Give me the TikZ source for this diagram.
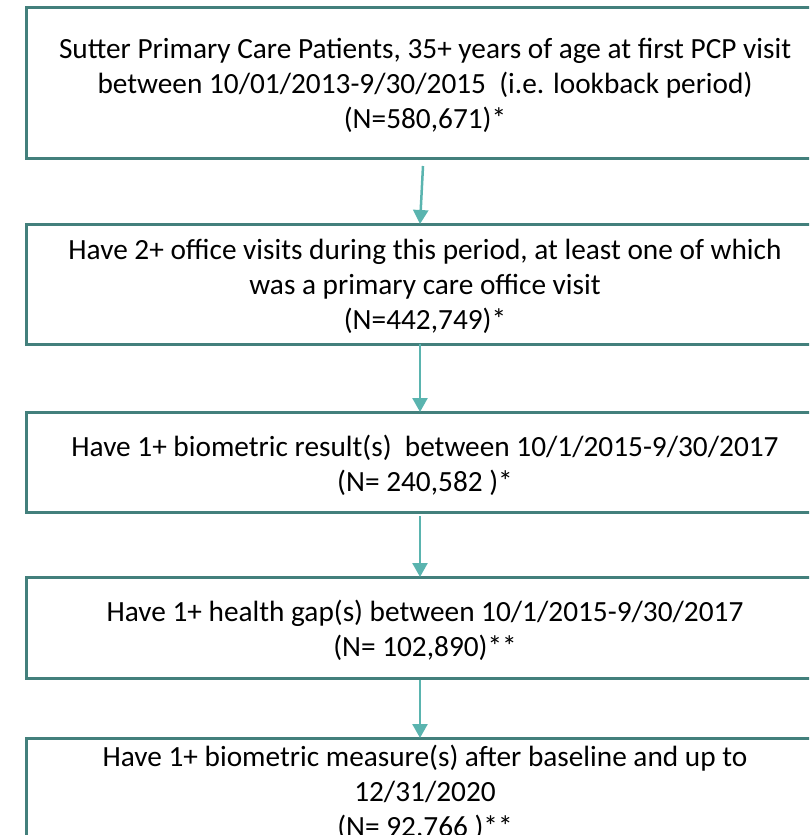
\documentclass[tikz,border=0pt]{standalone}
\usepackage{fontspec}
\setmainfont{Carlito}
\usetikzlibrary{arrows.meta}
\definecolor{boxline}{HTML}{43807C}
\definecolor{arrline}{HTML}{5AB4AF}
\begin{document}
\begin{tikzpicture}[x=1pt,y=-1pt,
  flowbox/.style={draw=boxline,line width=3pt,minimum width=798pt,inner sep=0pt,outer sep=0pt},
  txt/.style={align=center,inner sep=0pt,font=\fontsize{29.3}{35}\selectfont,text=black},
  arr/.style={draw=arrline,line width=2.5pt,-{Triangle[width=15pt,length=14pt]}}]
\useasboundingbox (0,0) rectangle (809,835);
\clip (0,0) rectangle (809,835);
\node[flowbox,minimum height=151pt] (b1) at (425,82.5) {};
\node[flowbox,minimum height=120pt] (b2) at (425,284) {};
\node[flowbox,minimum height=100pt] (b3) at (425,462) {};
\node[flowbox,minimum height=101pt] (b4) at (425,627.5) {};
\node[flowbox,minimum height=108pt] (b5) at (425,792) {};
\node[txt] (t1) at ([yshift=-3pt]b1.center) {Sutter Primary Care Patients, 35+ years of age at first PCP visit\\between 10/01/2013-9/30/2015\ \ (i.e. lookback period)\\(N=580,671)*};
\node[txt] (t2) at ([yshift=-2pt]b2.center) {Have 2+ office visits during this period, at least one of which\\was a primary care office visit\\(N=442,749)*};
\node[txt] (t3) at ([yshift=-3pt]b3.center) {Have 1+ biometric result(s)\ \ between 10/1/2015-9/30/2017\\(N= 240,582 )*};
\node[txt] (t4) at ([yshift=-3pt]b4.center) {Have 1+ health gap(s) between 10/1/2015-9/30/2017\\(N= 102,890)**};
\node[txt] (t5) at ([yshift=-1pt]b5.center) {Have 1+ biometric measure(s) after baseline and up to\\12/31/2020\\(N= 92,766 )**};
\draw[arr] ([shift={(-2,8)}]b1.south) -- ([xshift=-5]b2.north);
\draw[arr] ([xshift=-5]b2.south) -- ([xshift=-5]b3.north);
\draw[arr] ([shift={(-5,4)}]b3.south) -- ([xshift=-5]b4.north);
\draw[arr] ([shift={(-5,2)}]b4.south) -- ([xshift=-5]b5.north);
\end{tikzpicture}
\end{document}
